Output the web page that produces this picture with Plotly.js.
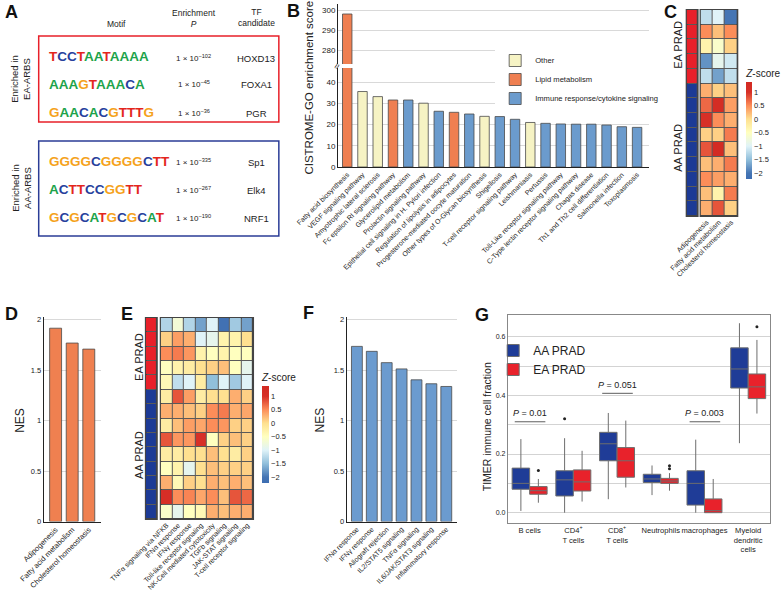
<!DOCTYPE html>
<html><head><meta charset="utf-8">
<script src="https://cdn.plot.ly/plotly-3.0.1.min.js"></script>
<style>html,body{margin:0;padding:0;background:#fff}#chart{width:781px;height:603px}</style>
</head><body><div id="chart"></div>
<script>
// ---------------- DATA ----------------
// Panel A: motifs
const motifSeqs = ['TCCTAATAAAA','AAAGTAAACA','GAACACGTTTG','GGGGCGGGGCTT','ACTTCCGGTT','GCGCATGCGCAT'];
const motifExp  = ['−102','−45','−36','−335','−267','−190'];
const motifTF   = ['HOXD13','FOXA1','PGR','Sp1','Elk4','NRF1'];

// Panel B: CISTROME-GO
const bCats = ['Fatty acid biosynthesis','VEGF signaling pathway','Amyotrophic lateral sclerosis','Fc epsilon RI signaling pathway','Glycerolipid metabolism','Prolactin signaling pathway','Epithelial cell signaling in H. Pylori infection','Regulation of lipolysis in adipocytes','Progesterone-mediated oocyte maturation','Other types of O-Glycan biosynthesis','Shigellosis','T-cell receptor signaling pathway','Leishmaniasis','Pertussis','Toll-Like receptor signaling pathway','C-Type lectin receptor signaling pathway','Chagas disease','Th1 and Th2 cell differentiation','Salmonella infection','Toxoplasmosis'];
const bScores = [298,35.6,33.2,31.6,31.6,30.1,26.3,25.8,25.0,23.9,23.8,22.5,21.0,20.6,20.3,20.2,20.2,19.8,19.0,18.7];
const L='Lipid metabolism', O='Other', I='Immune response/cytokine signaling';
const bGroups = [L,O,O,L,I,O,I,L,I,O,I,I,O,I,I,I,I,I,I,I];
const bLegendOrder = [O,L,I];

// Panel C: heatmap (rows = samples, cols = pathways)
const rowGroups = ['EA','EA','EA','EA','EA','AA','AA','AA','AA','AA','AA','AA','AA','AA'];
const cCols = ['Adipogenesis','Fatty acid metabolism','Cholesterol homeostasis'];
const cZ = [
 [-1.2,-1.0,-2.0],[0.5,0.2,0.5],[-0.3,-0.6,0.1],[-1.8,-0.9,-1.1],[-1.2,-1.7,-1.2],
 [0.3,0.1,0.2],[0.7,1.2,0.4],[1.0,0.5,0.3],[0.1,0.1,0.6],[0.8,1.3,0.2],
 [0.2,0.3,0.6],[0.5,0.4,0.3],[0.2,-0.3,0.6],[0.3,0.8,0.1]];

// Panel D: NES lipid
const dCats = ['Adipogenesis','Fatty acid metabolism','Cholesterol homeostasis'];
const dNES = [1.914,1.767,1.707];

// Panel E: heatmap immune
const eCols = ['TNFα signaling via NFKB','IFNα response','IFNγ response','Toll-like receptor signaling','NK-Cell mediated cytotoxicity','TGFb signaling','JAK-STAT signaling','T-cell receptor signaling'];
const eZ = [
 [-1.3,-0.7,-1.3,-1.7,-1.0,-2.1,-1.4,-1.7],
 [0.1,0.4,0.3,-1.0,-0.9,-0.3,-0.3,0.0],
 [0.5,0.6,0.45,-0.3,-0.5,-0.3,-0.5,-0.5],
 [-0.5,-0.3,-0.2,0.0,0.1,0.2,-0.5,-0.9],
 [-0.4,-1.2,-1.0,-0.2,-1.5,-1.0,-1.4,-1.0],
 [-0.2,0.8,0.4,-0.2,0.0,0.0,0.3,0.1],
 [0.3,0.3,0.2,0.1,0.5,0.6,0.3,0.35],
 [-0.2,0.2,0.4,0.35,0.5,0.45,0.1,0.1],
 [0.8,0.45,0.45,1.0,-0.5,0.1,0.2,0.1],
 [-0.2,-0.2,0.0,0.0,0.2,0.0,-0.2,0.1],
 [-0.5,-0.3,-0.9,0.0,0.2,0.1,0.1,0.1],
 [0.3,-0.4,0.1,0.0,0.3,0.2,0.3,0.2],
 [1.1,0.5,0.55,0.35,0.5,0.2,0.8,0.7],
 [-0.6,-0.9,-0.5,-0.4,0.3,0.2,0.3,0.3]];

// Panel F: NES immune
const fCats = ['IFNα response','IFNγ response','Allograft rejection','IL2/STAT5 signaling','TNFα signaling','IL6/JAK/STAT3 signaling','Inflammatory response'];
const fNES = [1.734,1.685,1.573,1.511,1.403,1.364,1.337];

// Panel G: TIMER boxes
const gCats = ['B cells','CD4<sup>+</sup><br>T cells','CD8<sup>+</sup><br>T cells','Neutrophils','macrophages','Myeloid<br>dendritic<br>cells'];
const aaLow =[0.006,0.000,0.046,0.060,0.000,0.237];
const aaQ1  =[0.080,0.057,0.177,0.103,0.026,0.425];
const aaMed =[0.100,0.112,0.235,0.115,0.100,0.490];
const aaQ3  =[0.152,0.143,0.274,0.131,0.143,0.562];
const aaHigh=[0.251,0.254,0.340,0.161,0.249,0.646];
const eaLow =[0.034,0.038,0.086,0.075,0.000,0.338];
const eaQ1  =[0.063,0.074,0.121,0.100,0.000,0.389];
const eaMed =[0.075,0.105,0.177,0.108,0.007,0.429];
const eaQ3  =[0.089,0.146,0.222,0.117,0.047,0.473];
const eaHigh=[0.115,0.211,0.314,0.135,0.115,0.589];
const aaOutCat=[1], aaOutVal=[0.320];
const eaOutCat=[0,3,3,5], eaOutVal=[0.144,0.160,0.150,0.634];
const pCat=[0,2,4], pText=['0.01','0.051','0.003'], pLevel=[0.31,0.407,0.31];

// ---------------- HELPERS ----------------
const W=781,H=603;
const X=p=>p/W, Y=p=>1-p/H;
const dx=(a,b)=>[X(a),X(b)], dy=(t,b)=>[Y(b),Y(t)];
const FONT='Liberation Sans, Arial, Helvetica, sans-serif';
const EAcol='#e8202a', AAcol='#1c3a95';
const zScale=[[0,'#3d6db2'],[0.061,'#4575b4'],[0.2,'#91bfdb'],[0.339,'#e0f3f8'],[0.478,'#ffffbf'],[0.617,'#fee090'],[0.756,'#fc8d59'],[0.894,'#d73027'],[1,'#d22a22']];
const zTicks=[1,0.5,0,-0.5,-1,-1.5,-2];

const traces=[];
// Panel B bars on both (broken) y axes
const groupColor={}; groupColor[O]='#f6f3c4'; groupColor[L]='#ef7f51'; groupColor[I]='#6b9bcd';
['y','y2'].forEach((ya,k)=>{
  bLegendOrder.forEach(g=>{
    const idx=bCats.map((c,i)=>i).filter(i=>bGroups[i]===g);
    traces.push({type:'bar',x:idx.map(i=>bCats[i]),y:idx.map(i=>bScores[i]),xaxis:'x',yaxis:ya,
      name:g,showlegend:k===0,legend:'legend',width:0.62,
      marker:{color:groupColor[g],line:{color:'#4a4a4a',width:0.8}}});
  });
});
// Panel C
const rowIdx=rowGroups.map((g,i)=>i);
traces.push({type:'heatmap',z:rowGroups.map(g=>[g==='EA'?1:0]),x:['grp'],y:rowIdx,xaxis:'x3',yaxis:'y3',
  colorscale:[[0,AAcol],[1,EAcol]],zmin:0,zmax:1,showscale:false,xgap:1,ygap:1,hoverinfo:'skip'});
traces.push({type:'heatmap',z:cZ,x:cCols,y:rowIdx,xaxis:'x4',yaxis:'y4',colorscale:zScale,zmin:-2.22,zmax:1.38,xgap:1,ygap:1,
  colorbar:{x:X(752),xanchor:'left',y:Y(122.5),yanchor:'middle',len:113/H,lenmode:'fraction',thickness:6,outlinewidth:0,
   xpad:0,ypad:0,tickvals:zTicks,ticks:'',tickfont:{size:7.5,color:'#222'},
   title:{text:'<i>Z</i>-score',side:'top',font:{size:10,color:'#222'}}}});
// Panel D
traces.push({type:'bar',x:dCats,y:dNES,xaxis:'x5',yaxis:'y5',width:0.72,showlegend:false,
  marker:{color:'#ef8050',line:{color:'#4a4a4a',width:0.8}}});
// Panel E
traces.push({type:'heatmap',z:rowGroups.map(g=>[g==='EA'?1:0]),x:['grp'],y:rowIdx,xaxis:'x6',yaxis:'y6',
  colorscale:[[0,AAcol],[1,EAcol]],zmin:0,zmax:1,showscale:false,xgap:1,ygap:1,hoverinfo:'skip'});
traces.push({type:'heatmap',z:eZ,x:eCols,y:rowIdx,xaxis:'x7',yaxis:'y7',colorscale:zScale,zmin:-2.22,zmax:1.38,xgap:1,ygap:1,
  colorbar:{x:X(264),xanchor:'left',y:Y(426.5),yanchor:'middle',len:113/H,lenmode:'fraction',thickness:7,outlinewidth:0,
   xpad:0,ypad:0,tickvals:zTicks,ticks:'',tickfont:{size:7.5,color:'#222'},
   title:{text:'<i>Z</i>-score',side:'top',font:{size:10,color:'#222'}}}});
// Panel F
traces.push({type:'bar',x:fCats,y:fNES,xaxis:'x8',yaxis:'y8',width:0.73,showlegend:false,
  marker:{color:'#6b9bcf',line:{color:'#4a4a4a',width:0.8}}});
// Panel G
const gIdx=gCats.map((c,i)=>i);
traces.push({type:'box',name:'AA PRAD',legend:'legend2',xaxis:'x9',yaxis:'y9',x:gIdx.map(i=>i-0.2),
  q1:aaQ1,median:aaMed,q3:aaQ3,lowerfence:aaLow,upperfence:aaHigh,width:0.4,whiskerwidth:0,boxpoints:false,
  fillcolor:'#1f3c97',line:{color:'#6e6e6e',width:1}});
traces.push({type:'box',name:'EA PRAD',legend:'legend2',xaxis:'x9',yaxis:'y9',x:gIdx.map(i=>i+0.2),
  q1:eaQ1,median:eaMed,q3:eaQ3,lowerfence:eaLow,upperfence:eaHigh,width:0.4,whiskerwidth:0,boxpoints:false,
  fillcolor:'#e8222b',line:{color:'#6e6e6e',width:1}});
traces.push({type:'scatter',mode:'markers',x:aaOutCat.map(i=>i-0.2),y:aaOutVal,xaxis:'x9',yaxis:'y9',showlegend:false,
  marker:{color:'#222',size:3}});
traces.push({type:'scatter',mode:'markers',x:eaOutCat.map(i=>i+0.2),y:eaOutVal,xaxis:'x9',yaxis:'y9',showlegend:false,
  marker:{color:'#222',size:3}});

// ---------------- ANNOTATIONS ----------------
const ann=[];
const txt=(text,x,y,o={})=>{
  const extra=Object.assign({},o); delete extra.font;
  ann.push(Object.assign({text,x:X(x),y:Y(y),xref:'paper',yref:'paper',showarrow:false,xanchor:'center',yanchor:'middle',
    font:Object.assign({size:9,color:'#222',family:FONT},o.font||{})},extra));
};
// panel letters
[['A',3,12],['B',287,11],['C',667,12],['D',3,314],['E',120,314],['F',303,313],['G',477,314.5]].forEach(a=>
  txt('<b>'+a[0]+'</b>',a[1],a[2],{xanchor:'left',font:{size:18,color:'#111'}}));
// Panel A
txt('Motif',117,24,{font:{size:8.5}});
txt('Enrichment<br><i>P</i>',195,19,{font:{size:8.5}});
txt('TF<br>candidate',258,18,{font:{size:8.5}});
const baseColor={A:'#1ea34b',C:'#273f9d',G:'#f5a21b',T:'#e3261c'};
const logo=s=>'<b>'+s.split('').map(c=>`<span style="color:${baseColor[c]}">${c}</span>`).join('')+'</b>';
const rowY=[56,84,112,161,189,217];
const pY=[58,84,113,162,190,218];
motifSeqs.forEach((s,i)=>{
  txt(logo(s),47,rowY[i],{xanchor:'left',font:{size:13.5}});
  txt('1 × 10<sup>'+motifExp[i]+'</sup>',195,pY[i],{font:{size:8}});
  txt(motifTF[i],258,pY[i],{font:{size:9.5}});
});
txt('Enriched in<br>EA-ARBS',21,79,{textangle:-90,font:{size:9.5}});
txt('Enriched in<br>AA-ARBS',21,188,{textangle:-90,font:{size:9.5}});
// Panel B
txt('CISTROME-GO enrichment score',311,88,{textangle:-90,font:{size:11.5}});
txt('≈',340,66,{textangle:-65,font:{size:10}});
// Panel C / E row labels
txt('EA PRAD',683,45,{textangle:-90,font:{size:11}});
txt('AA PRAD',683,148,{textangle:-90,font:{size:11}});
txt('EA PRAD',140,357,{textangle:-90,font:{size:11}});
txt('AA PRAD',140,455,{textangle:-90,font:{size:11}});
// Panel D / F / G titles
txt('NES',20,420,{textangle:-90,font:{size:12}});
txt('NES',322,420,{textangle:-90,font:{size:12}});
txt('TIMER immune cell fraction',491,427,{textangle:-90,font:{size:10.5}});
// Panel G p-values
pCat.forEach((c,i)=>ann.push({xref:'x9',yref:'y9',x:c,y:pLevel[i]+0.005,xanchor:'center',yanchor:'bottom',showarrow:false,
  text:'<i>P</i> = '+pText[i],font:{size:9,color:'#222',family:FONT}}));

// ---------------- SHAPES ----------------
const shapes=[
  {type:'rect',xref:'paper',yref:'paper',x0:X(39),x1:X(281),y0:Y(122),y1:Y(36),line:{color:'#e8202a',width:1.5}},
  {type:'rect',xref:'paper',yref:'paper',x0:X(39),x1:X(281),y0:Y(236),y1:Y(141),line:{color:'#2b3d97',width:1.5}}
];
['3','4','6','7'].forEach(n=>shapes.push({type:'rect',xref:'x'+n+' domain',yref:'y'+n+' domain',x0:0,x1:1,y0:0,y1:1,
  fillcolor:'#5a5a5a',line:{color:'#444',width:2},layer:'below'}));
pCat.forEach((c,i)=>shapes.push({type:'line',xref:'x9',yref:'y9',x0:c-0.34,x1:c+0.36,y0:pLevel[i],y1:pLevel[i],
  line:{color:'#333',width:0.8}}));

// ---------------- LAYOUT ----------------
const grid='#d9d9d9';
const tf=(s)=>({size:s,color:'#222',family:FONT});
const hidden={showticklabels:false,ticks:'',showgrid:false,zeroline:false,showline:false};
const layout={
  width:W,height:H,margin:{l:0,r:0,t:0,b:0},paper_bgcolor:'#fff',plot_bgcolor:'rgba(0,0,0,0)',
  font:{family:FONT,color:'#222',size:9},barmode:'overlay',showlegend:true,
  legend:{x:X(499),y:Y(46),xanchor:'left',yanchor:'top',bgcolor:'#fff',font:{size:7.6},tracegroupgap:0},
  legend2:{x:X(497),y:Y(336),xanchor:'left',yanchor:'top',bgcolor:'rgba(0,0,0,0)',font:{size:12},tracegroupgap:0},
  xaxis:{domain:dx(340.7,654),anchor:'y',type:'category',categoryorder:'array',categoryarray:bCats,range:[-0.6,19.78],
    tickangle:-45,tickfont:tf(7),ticks:'',showline:true,linecolor:'#222',showgrid:false,zeroline:false},
  yaxis:{domain:dy(68,167),anchor:'x',range:[0,46.7],tickvals:[0,10,20,30,40],tickfont:tf(8),ticks:'',
    showline:true,linecolor:'#222',gridcolor:grid,zeroline:false},
  yaxis2:{domain:dy(4,64),anchor:'x',range:[273,303],tickvals:[280,290,300],tickfont:tf(8),ticks:'',
    showline:true,linecolor:'#222',gridcolor:grid,zeroline:false},
  xaxis3:Object.assign({domain:dx(692,703),anchor:'y3'},hidden),
  yaxis3:Object.assign({domain:dy(10,216),anchor:'x3',autorange:'reversed'},hidden),
  xaxis4:{domain:dx(706,743),anchor:'y4',tickangle:-45,tickfont:tf(7),ticks:'',showgrid:false,zeroline:false,showline:false},
  yaxis4:Object.assign({domain:dy(10,216),anchor:'x4',autorange:'reversed'},hidden),
  xaxis5:{domain:dx(44,102),anchor:'y5',range:[-0.72,2.75],tickangle:-45,tickfont:tf(7.5),ticks:'',
    showline:true,linecolor:'#222',showgrid:false,zeroline:false},
  yaxis5:{domain:dy(316.5,521.5),anchor:'x5',range:[0,2.03],dtick:0.5,tickfont:tf(7.5),ticks:'',
    showline:true,linecolor:'#222',gridcolor:grid,zeroline:false},
  xaxis6:Object.assign({domain:dx(147,158),anchor:'y6'},hidden),
  yaxis6:Object.assign({domain:dy(318,519),anchor:'x6',autorange:'reversed'},hidden),
  xaxis7:{domain:dx(162,255),anchor:'y7',tickangle:-45,tickfont:tf(7),ticks:'',showgrid:false,zeroline:false,showline:false},
  yaxis7:Object.assign({domain:dy(318,519),anchor:'x7',autorange:'reversed'},hidden),
  xaxis8:{domain:dx(349.3,461),anchor:'y8',range:[-0.69,6.75],tickangle:-45,tickfont:tf(7),ticks:'',
    showline:true,linecolor:'#222',showgrid:false,zeroline:false},
  yaxis8:{domain:dy(316.5,521.5),anchor:'x8',range:[0,2.03],dtick:0.5,tickfont:tf(7.5),ticks:'',
    showline:true,linecolor:'#222',gridcolor:grid,zeroline:false},
  xaxis9:{domain:dx(511.7,776),anchor:'y9',range:[-0.5,5.5],tickvals:gIdx,ticktext:gCats,tickfont:tf(7.6),ticks:'',tickangle:0,
    showline:true,mirror:true,linecolor:'#888',showgrid:false,zeroline:false},
  yaxis9:{domain:dy(315,522.5),anchor:'x9',range:[-0.0334,0.674],tickvals:[0,0.2,0.4,0.6],tickformat:'.1f',tickfont:tf(7),ticks:'',
    showline:true,mirror:true,linecolor:'#888',gridcolor:'#d3d3d3',zeroline:false,
    minor:{tickvals:[0.1,0.3,0.5],showgrid:true,gridcolor:'#d3d3d3',ticks:''}},
  annotations:ann,shapes:shapes
};
Plotly.newPlot('chart',traces,layout,{displayModeBar:false,staticPlot:true});
</script></body></html>
